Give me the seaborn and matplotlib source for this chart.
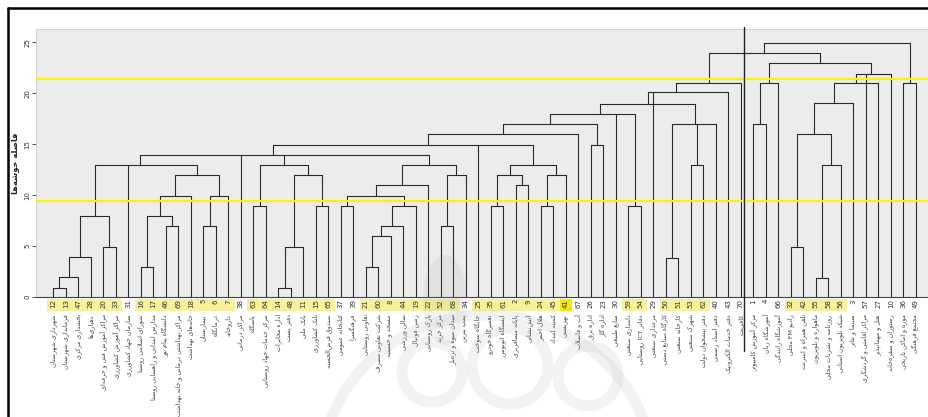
import re
import numpy as np
import pandas as pd
import matplotlib
matplotlib.use("Agg")
import matplotlib.pyplot as plt
from matplotlib.lines import Line2D
from matplotlib.patches import Rectangle, Ellipse, Circle, Polygon
from matplotlib.transforms import blended_transform_factory
import seaborn as sns

sns.set_style("white")
plt.rcParams['font.family'] = ['DejaVu Sans']

# case numbers of the leaves, left to right
case_ids = [12, 13, 47, 28, 20, 33, 31, 16, 17, 46, 69, 18, 5, 6, 7, 38, 63, 64, 14, 48,
            11, 15, 65, 37, 39, 21, 60, 8, 44, 19, 22, 52, 68, 34, 25, 35, 61, 2, 9, 24,
            45, 41, 67, 26, 23, 30, 59, 54, 29, 50, 51, 53, 62, 40, 43, 70, 1, 4, 66, 32,
            42, 55, 58, 56, 3, 57, 27, 10, 36, 49]

case_names = [
    "شهرداری شهرستان", "فرمانداری شهرستان", "بخشداری مرکزی", "دهیاری‌ها",
    "مراکز آموزش فنی و حرفه‌ای", "مراکز آموزش کشاورزی", "سازمان جهاد کشاورزی",
    "شورای اسلامی روستا", "مدارس ابتدایی و راهنمایی روستا", "دانشگاه پیام نور",
    "مراکز بهداشتی درمانی و خانه بهداشت", "خانه‌های بهداشت", "بیمارستان",
    "درمانگاه", "داروخانه", "مراکز درمانی", "پاسگاه", "مرکز خدمات جهاد روستایی",
    "اداره مخابرات", "دفتر پست", "بانک ملی", "بانک کشاورزی", "صندوق قرض‌الحسنه",
    "کتابخانه عمومی", "فرهنگسرا", "تعاونی روستایی", "شرکت تعاونی مصرف", "مسجد و حسینیه",
    "سالن ورزشی", "زمین فوتبال", "پارک روستایی", "مرکز خرید", "میدان میوه و تره‌بار",
    "پمپ بنزین", "جایگاه سوخت", "تعمیرگاه خودرو", "ایستگاه اتوبوس", "پایانه مسافربری",
    "آتش‌نشانی", "هلال احمر", "کمیته امداد", "بهزیستی", "آب و فاضلاب", "اداره برق",
    "اداره گاز", "منابع طبیعی", "دامداری صنعتی", "دفاتر ICT روستایی", "مرغداری صنعتی",
    "کارگاه صنایع دستی", "کارخانه صنعتی", "شهرک صنعتی", "دفتر پیشخوان دولت",
    "دفتر اسناد رسمی", "دفتر خدمات الکترونیک", "کافی‌نت", "مرکز آموزش کامپیوتر",
    "آموزشگاه زبان", "آموزشگاه رانندگی", "رادیو FM محلی", "تلفن همراه و اینترنت",
    "ماهواره و تلویزیون", "روزنامه و نشریات محلی", "شبکه تلویزیون استانی",
    "سینما و تئاتر", "مراکز اقامتی و گردشگری", "هتل و مهمانپذیر", "رستوران و سفره‌خانه",
    "موزه و اماکن تاریخی", "مجتمع فرهنگی",
]

# leaf positions whose number is marked in yellow
marked_leaves = [0, 1, 2, 3, 4, 5, 7, 8, 9, 10, 11, 12, 13, 14, 16, 17, 18, 19, 20, 21, 22,
                 25, 26, 27, 28, 29, 30, 31, 32, 34, 35, 36, 37, 38, 39, 40,
                 46, 47, 49, 50, 51, 52, 59, 60, 61, 62, 63]
strong_leaf = 41

# merges in order: children are leaf positions (int) or earlier merges ('m<k>')
merge_children = [
    [0, 1], ['m0', 2], ['m1', 3], [4, 5], ['m2', 'm3'],
    [7, 8], [9, 10], ['m5', 'm6'], ['m7', 11], [12, 13], ['m9', 14], ['m8', 'm10'],
    ['m4', 6, 'm11'],
    [16, 17], [18, 19], ['m14', 20], [21, 22], ['m15', 'm16'], ['m13', 'm17'],
    [23, 24], [25, 26], ['m20', 27], ['m21', 28], ['m22', 29], ['m19', 'm23'], ['m24', 30],
    [31, 32], ['m26', 33], ['m25', 'm27'],
    ['m12', 15, 'm18', 'm28'],
    [35, 36], [37, 38], ['m30', 'm31'], [39, 40], ['m33', 41], ['m32', 'm34'],
    ['m29', 34, 'm35'], ['m36', 42], [43, 44], ['m37', 'm38'], [46, 47],
    ['m39', 45, 'm40'], [49, 50], [51, 52], ['m42', 'm43', 53], ['m41', 'm44'],
    [48, 'm45', 54], ['m46', 55],
    [56, 57], ['m48', 58], [59, 60], [61, 62], ['m51', 63], ['m50', 'm52'], ['m53', 64],
    ['m54', 66], ['m55', 65, 67], ['m49', 'm56'], [68, 69],
    ['m47', 'm57'], ['m59', 'm58'],
]
merge_heights = [
    0.92, 1.94, 3.93, 4.9, 7.93,
    2.95, 6.94, 7.93, 9.92, 6.94, 9.92, 11.95,
    13.0,
    8.94, 0.92, 4.9, 8.94, 11.95, 13.0,
    8.9, 2.95, 5.96, 6.94, 8.9, 9.92, 10.97,
    6.94, 11.95, 13.0,
    13.95,
    8.9, 10.97, 11.95, 8.9, 11.95, 13.0,
    14.94, 15.98, 14.94, 16.96, 8.94,
    17.95, 3.87, 13.0, 16.96, 18.93,
    20.1, 21.0,
    16.96, 21.0, 4.9, 1.9, 13.0, 15.95, 19.0,
    20.96, 21.9, 23.0, 20.96,
    23.97, 24.95,
]

cut_levels = [9.45, 21.4]
fold_after_leaf = 55

# --- minimal Persian shaping (presentation forms + visual order) ---
FORMS = {
    'ا': (0xFE8D, 0xFE8E), 'آ': (0xFE81, 0xFE82), 'أ': (0xFE83, 0xFE84),
    'د': (0xFEA9, 0xFEAA), 'ذ': (0xFEAB, 0xFEAC), 'ر': (0xFEAD, 0xFEAE),
    'ز': (0xFEAF, 0xFEB0), 'ژ': (0xFB8A, 0xFB8B), 'و': (0xFEED, 0xFEEE),
    'ب': (0xFE8F, 0xFE90, 0xFE91, 0xFE92), 'پ': (0xFB56, 0xFB57, 0xFB58, 0xFB59),
    'ت': (0xFE95, 0xFE96, 0xFE97, 0xFE98), 'ث': (0xFE99, 0xFE9A, 0xFE9B, 0xFE9C),
    'ج': (0xFE9D, 0xFE9E, 0xFE9F, 0xFEA0), 'چ': (0xFB7A, 0xFB7B, 0xFB7C, 0xFB7D),
    'ح': (0xFEA1, 0xFEA2, 0xFEA3, 0xFEA4), 'خ': (0xFEA5, 0xFEA6, 0xFEA7, 0xFEA8),
    'س': (0xFEB1, 0xFEB2, 0xFEB3, 0xFEB4), 'ش': (0xFEB5, 0xFEB6, 0xFEB7, 0xFEB8),
    'ص': (0xFEB9, 0xFEBA, 0xFEBB, 0xFEBC), 'ض': (0xFEBD, 0xFEBE, 0xFEBF, 0xFEC0),
    'ط': (0xFEC1, 0xFEC2, 0xFEC3, 0xFEC4), 'ظ': (0xFEC5, 0xFEC6, 0xFEC7, 0xFEC8),
    'ع': (0xFEC9, 0xFECA, 0xFECB, 0xFECC), 'غ': (0xFECD, 0xFECE, 0xFECF, 0xFED0),
    'ف': (0xFED1, 0xFED2, 0xFED3, 0xFED4), 'ق': (0xFED5, 0xFED6, 0xFED7, 0xFED8),
    'ک': (0xFB8E, 0xFB8F, 0xFB90, 0xFB91), 'گ': (0xFB92, 0xFB93, 0xFB94, 0xFB95),
    'ل': (0xFEDD, 0xFEDE, 0xFEDF, 0xFEE0), 'م': (0xFEE1, 0xFEE2, 0xFEE3, 0xFEE4),
    'ن': (0xFEE5, 0xFEE6, 0xFEE7, 0xFEE8), 'ه': (0xFEE9, 0xFEEA, 0xFEEB, 0xFEEC),
    'ی': (0xFBFC, 0xFBFD, 0xFBFE, 0xFBFF), 'ئ': (0xFE89, 0xFE8A, 0xFE8B, 0xFE8C),
}


def joins_next(c):
    return c in FORMS and len(FORMS[c]) == 4


def shape_fa(s):
    out = []
    i = 0
    while i < len(s):
        c = s[i]
        prev = s[i - 1] if i > 0 else ''
        nxt = s[i + 1] if i + 1 < len(s) else ''
        if c == '\u200c':
            i += 1
            continue
        if c not in FORMS:
            out.append(c)
            i += 1
            continue
        jp = joins_next(prev)
        if c == 'ل' and nxt == 'ا':
            out.append(chr(0xFEFC if jp else 0xFEFB))
            i += 2
            continue
        f = FORMS[c]
        jn = len(f) == 4 and nxt in FORMS
        if jp and jn:
            code = f[3]
        elif jp:
            code = f[1]
        elif jn:
            code = f[2]
        else:
            code = f[0]
        out.append(chr(code))
        i += 1
    vis = ''.join(out)[::-1]
    return re.sub(r'[A-Za-z0-9]+', lambda m: m.group(0)[::-1], vis)


# --- build dendrogram segments from the merge table ---
pos, hgt = {}, {}
for i in range(len(case_ids)):
    pos[i], hgt[i] = float(i), 0.0

rows = []
seg = 0
for k, (kids, h) in enumerate(zip(merge_children, merge_heights)):
    xs = [pos[c] for c in kids]
    for c in kids:
        rows += [(seg, pos[c], hgt[c]), (seg, pos[c], h)]
        seg += 1
    rows += [(seg, min(xs), h), (seg, max(xs), h)]
    seg += 1
    pos['m%d' % k] = float(np.mean(xs))
    hgt['m%d' % k] = h

seg_df = pd.DataFrame(rows, columns=['seg', 'x', 'y'])

fig = plt.figure(figsize=(9.29, 4.17), dpi=100)
ax = fig.add_axes([36 / 929, 120 / 417, 893 / 929, 268 / 417])
ax.set_facecolor('#ececec')

sns.lineplot(data=seg_df, x='x', y='y', units='seg', estimator=None, sort=False,
             color='#2a2a2a', linewidth=0.8, ax=ax, legend=False)

for lv in cut_levels:
    ax.axhline(lv, color='#fff200', lw=1.6, zorder=5)

ax.set_xlim(-1.38, 70.06)
ax.set_ylim(0, 26.3)
ax.set_yticks([0, 5, 10, 15, 20, 25])
ax.set_yticklabels(['0', '5', '10', '15', '20', '25'])
ax.tick_params(axis='y', labelsize=5, length=3, width=0.6, pad=1, labelrotation=90,
               colors='#333333', left=True)
for t in ax.get_yticklabels():
    t.set_va('center')

ax.set_xticks(range(len(case_ids)))
ax.set_xticklabels([str(c) for c in case_ids], rotation=90, fontsize=5, color='#333333')
ax.tick_params(axis='x', length=0, pad=1.5)
ax.set_xlabel('')
ax.set_ylabel(shape_fa('فاصله خوشه‌ها'), fontsize=6, fontweight='bold', color='#222222')
ax.yaxis.set_label_coords(-0.019, 0.5)

for s in ['top', 'left', 'right']:
    ax.spines[s].set_color('#cfcfcf')
    ax.spines[s].set_linewidth(0.6)
ax.spines['bottom'].set_color('#444444')
ax.spines['bottom'].set_linewidth(0.8)

blend = blended_transform_factory(ax.transData, ax.transAxes)
for i in marked_leaves:
    ax.add_patch(Rectangle((i - 0.5, -0.052), 1.0, 0.046, transform=blend,
                           facecolor='#f7f29a', edgecolor='none', clip_on=False, zorder=0))
ax.add_patch(Rectangle((strong_leaf - 0.5, -0.052), 1.0, 0.046, transform=blend,
                       facecolor='#f2ea00', edgecolor='none', clip_on=False, zorder=0))

for i, name in enumerate(case_names):
    ax.text(i, -0.064, shape_fa(name), transform=blend, rotation=90, ha='center', va='top',
            fontsize=4.6, color='#444444')

# long vertical fold line crossing the scan
fx = fold_after_leaf + 0.28
ax.plot([fx, fx], [26.5, -5.3], color='#222222', lw=1.0, clip_on=False, zorder=6)

# faint watermark behind the lower middle of the page (pixel space overlay)
wm = fig.add_axes([0, 0, 1, 1], zorder=10)
wm.set_xlim(0, 929)
wm.set_ylim(417, 0)
wm.axis('off')
wm.patch.set_alpha(0)
wm_kw = dict(fill=False, edgecolor='#9a9a9a', alpha=0.12, lw=8)
wm.add_patch(Ellipse((487, 470), 330, 310, **wm_kw))
wm.add_patch(Circle((432, 372), 30, **wm_kw))
wm.add_patch(Circle((510, 366), 38, **wm_kw))
wm.add_patch(Circle((588, 376), 30, **wm_kw))
t = np.linspace(0, np.pi, 40)
petal_l = np.column_stack([445 - 22 * np.sin(t), 255 + 90 * (1 - np.cos(t)) / 2])
petal_r = np.column_stack([445 + 22 * np.sin(t[::-1]), 255 + 90 * (1 - np.cos(t[::-1])) / 2])
wm.add_patch(Polygon(np.vstack([petal_l, petal_r]), closed=True, facecolor='#8a8a8a',
                     edgecolor='none', alpha=0.1))

# outer frame of the scanned page
fig.add_artist(Line2D([8 / 929, 1.0], [1 - 8 / 417, 1 - 8 / 417], color='black', lw=1.8))
fig.add_artist(Line2D([8 / 929, 8 / 929], [0.0, 1 - 8 / 417], color='black', lw=1.8))

fig.savefig('out.png', dpi=100, facecolor='white')
